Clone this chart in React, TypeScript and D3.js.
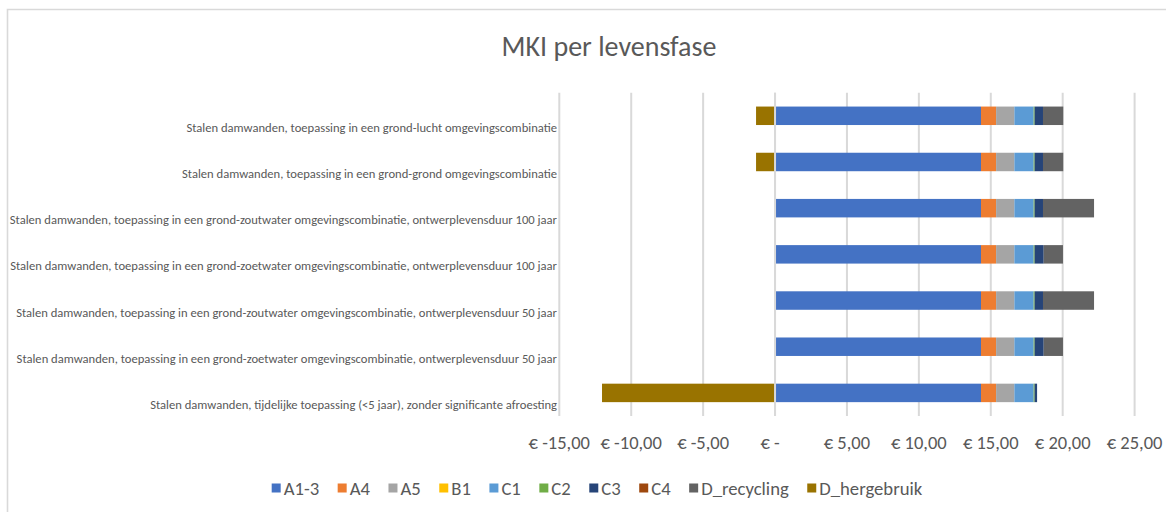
import { useRef, useEffect } from 'react'
import * as d3 from 'd3'

const W = 1166
const H = 512
const FONT = "Calibri, Carlito, Lato, 'Open Sans', sans-serif"
const TEXT = '#595959'
const GRID = '#d9d9d9'

const TITLE = 'MKI per levensfase'

const categories = [
  'Stalen damwanden, toepassing in een grond-lucht omgevingscombinatie',
  'Stalen damwanden, toepassing in een grond-grond omgevingscombinatie',
  'Stalen damwanden, toepassing in een grond-zoutwater omgevingscombinatie, ontwerplevensduur 100 jaar',
  'Stalen damwanden, toepassing in een grond-zoetwater omgevingscombinatie, ontwerplevensduur 100 jaar',
  'Stalen damwanden, toepassing in een grond-zoutwater omgevingscombinatie, ontwerplevensduur 50 jaar',
  'Stalen damwanden, toepassing in een grond-zoetwater omgevingscombinatie, ontwerplevensduur 50 jaar',
  'Stalen damwanden, tijdelijke toepassing (<5 jaar), zonder significante afroesting',
]

const seriesNames = ['A1-3', 'A4', 'A5', 'B1', 'C1', 'C2', 'C3', 'C4', 'D_recycling', 'D_hergebruik']
const seriesColors = ['#4472C4', '#ED7D31', '#A5A5A5', '#FFC000', '#5B9BD5', '#70AD47', '#264478', '#9E480E', '#636363', '#997300']

// values per series, same order as categories (euro)
const a13 = [14.32, 14.32, 14.32, 14.32, 14.32, 14.32, 14.32]
const a4 = [1.05, 1.05, 1.05, 1.05, 1.05, 1.05, 1.05]
const a5 = [1.27, 1.27, 1.27, 1.27, 1.27, 1.27, 1.27]
const b1 = [0, 0, 0, 0, 0, 0, 0]
const c1 = [1.34, 1.34, 1.34, 1.34, 1.34, 1.34, 1.34]
const c2 = [0.07, 0.07, 0.07, 0.07, 0.07, 0.07, 0.07]
const c3 = [0.58, 0.58, 0.58, 0.63, 0.58, 0.63, 0.17]
const c4 = [0, 0, 0, 0, 0, 0, 0]
const dRecycling = [1.41, 1.41, 3.55, 1.34, 3.55, 1.34, 0]
const dHergebruik = [-1.32, -1.32, 0, 0, 0, 0, -12.03]

const seriesValues = [a13, a4, a5, b1, c1, c2, c3, c4, dRecycling, dHergebruik]

const xTicks = [-15, -10, -5, 0, 5, 10, 15, 20, 25]

const nl = d3.formatLocale({ decimal: ',', thousands: '.', grouping: [3], currency: ['€ ', ''], minus: '-' })
const money = nl.format('.2f')

export default function App() {
  const svgRef = useRef<SVGSVGElement>(null)

  useEffect(() => {
    if (!svgRef.current) return
    const svg = d3.select(svgRef.current)
    svg.selectAll('*').remove()

    // frame of the chart (cut off right and bottom)
    svg.append('path')
      .attr('d', `M7.5,${H + 2}V9.5H${W + 2}`)
      .attr('fill', 'none')
      .attr('stroke', GRID)
      .attr('stroke-width', 1.6)

    svg.append('text')
      .attr('x', 609).attr('y', 56)
      .attr('text-anchor', 'middle')
      .attr('font-family', FONT)
      .attr('font-size', 28)
      .attr('fill', TEXT)
      .text(TITLE)

    const rows = categories.map((c, i) => {
      const r: Record<string, number | string> = { cat: c }
      seriesNames.forEach((s, j) => { r[s] = seriesValues[j][i] })
      return r
    })

    const x = d3.scaleLinear().domain([-15, 25]).range([559.3, 1134.6])
    const y = d3.scaleBand().domain(categories).range([92.7, 416]).paddingInner(0.6).paddingOuter(0.3)

    // gridlines
    svg.append('g')
      .selectAll('line')
      .data(xTicks)
      .join('line')
      .attr('x1', (d) => x(d)).attr('x2', (d) => x(d))
      .attr('y1', 92.7).attr('y2', 416)
      .attr('stroke', GRID)
      .attr('stroke-width', 2)

    const stacked = d3.stack<Record<string, number | string>>()
      .keys(seriesNames)
      .value((d, k) => d[k] as number)
      .offset(d3.stackOffsetDiverging)(rows)

    svg.append('g')
      .selectAll('g')
      .data(stacked)
      .join('g')
      .attr('fill', (_, i) => seriesColors[i])
      .selectAll('rect')
      .data((s) => s.filter((p) => p[1] - p[0] !== 0))
      .join('rect')
      .attr('x', (p) => x(Math.min(p[0], p[1])))
      .attr('width', (p) => Math.abs(x(p[1]) - x(p[0])))
      .attr('y', (p) => y(p.data.cat as string) ?? 0)
      .attr('height', y.bandwidth())

    // zero line shows through between negative and positive parts
    svg.append('line')
      .attr('x1', x(0)).attr('x2', x(0))
      .attr('y1', 92.7).attr('y2', 416)
      .attr('stroke', GRID)
      .attr('stroke-width', 2)

    // category labels
    svg.append('g')
      .selectAll('text')
      .data(categories)
      .join('text')
      .attr('x', 557)
      .attr('y', (d) => (y(d) ?? 0) + y.bandwidth() / 2 + 16)
      .attr('text-anchor', 'end')
      .attr('font-family', FONT)
      .attr('font-size', 12.6)
      .attr('fill', TEXT)
      .text((d) => d)

    // x tick labels
    svg.append('g')
      .selectAll('text')
      .data(xTicks)
      .join('text')
      .attr('x', (d) => x(d) - (d === 0 ? 5 : 0))
      .attr('y', 449)
      .attr('text-anchor', 'middle')
      .attr('font-family', FONT)
      .attr('font-size', 18.5)
      .attr('fill', TEXT)
      .text((d) => (d === 0 ? '€ -' : `€ ${money(d)}`))

    // legend, measured and centred
    const legend = svg.append('g')
    const items = legend.selectAll('g')
      .data(seriesNames)
      .join('g')
    items.append('rect')
      .attr('y', -4.5).attr('width', 9).attr('height', 9)
      .attr('fill', (_, i) => seriesColors[i])
    items.append('text')
      .attr('x', 12)
      .attr('y', 6.5)
      .attr('font-family', FONT)
      .attr('font-size', 18.7)
      .attr('fill', TEXT)
      .text((d) => d)
    let cx = 0
    items.each(function () {
      const g = d3.select(this)
      const t = (g.select('text').node() as SVGTextElement).getComputedTextLength()
      g.attr('transform', `translate(${cx},0)`)
      cx += 12 + t + 18.5
    })
    const total = cx - 18.5
    legend.attr('transform', `translate(${597 - total / 2},488)`)
  }, [])

  return (
    <div style={{ position: 'fixed', left: 0, top: 0, width: W, height: H, background: '#fff' }}>
      <svg ref={svgRef} width={W} height={H} style={{ display: 'block' }} />
    </div>
  )
}
